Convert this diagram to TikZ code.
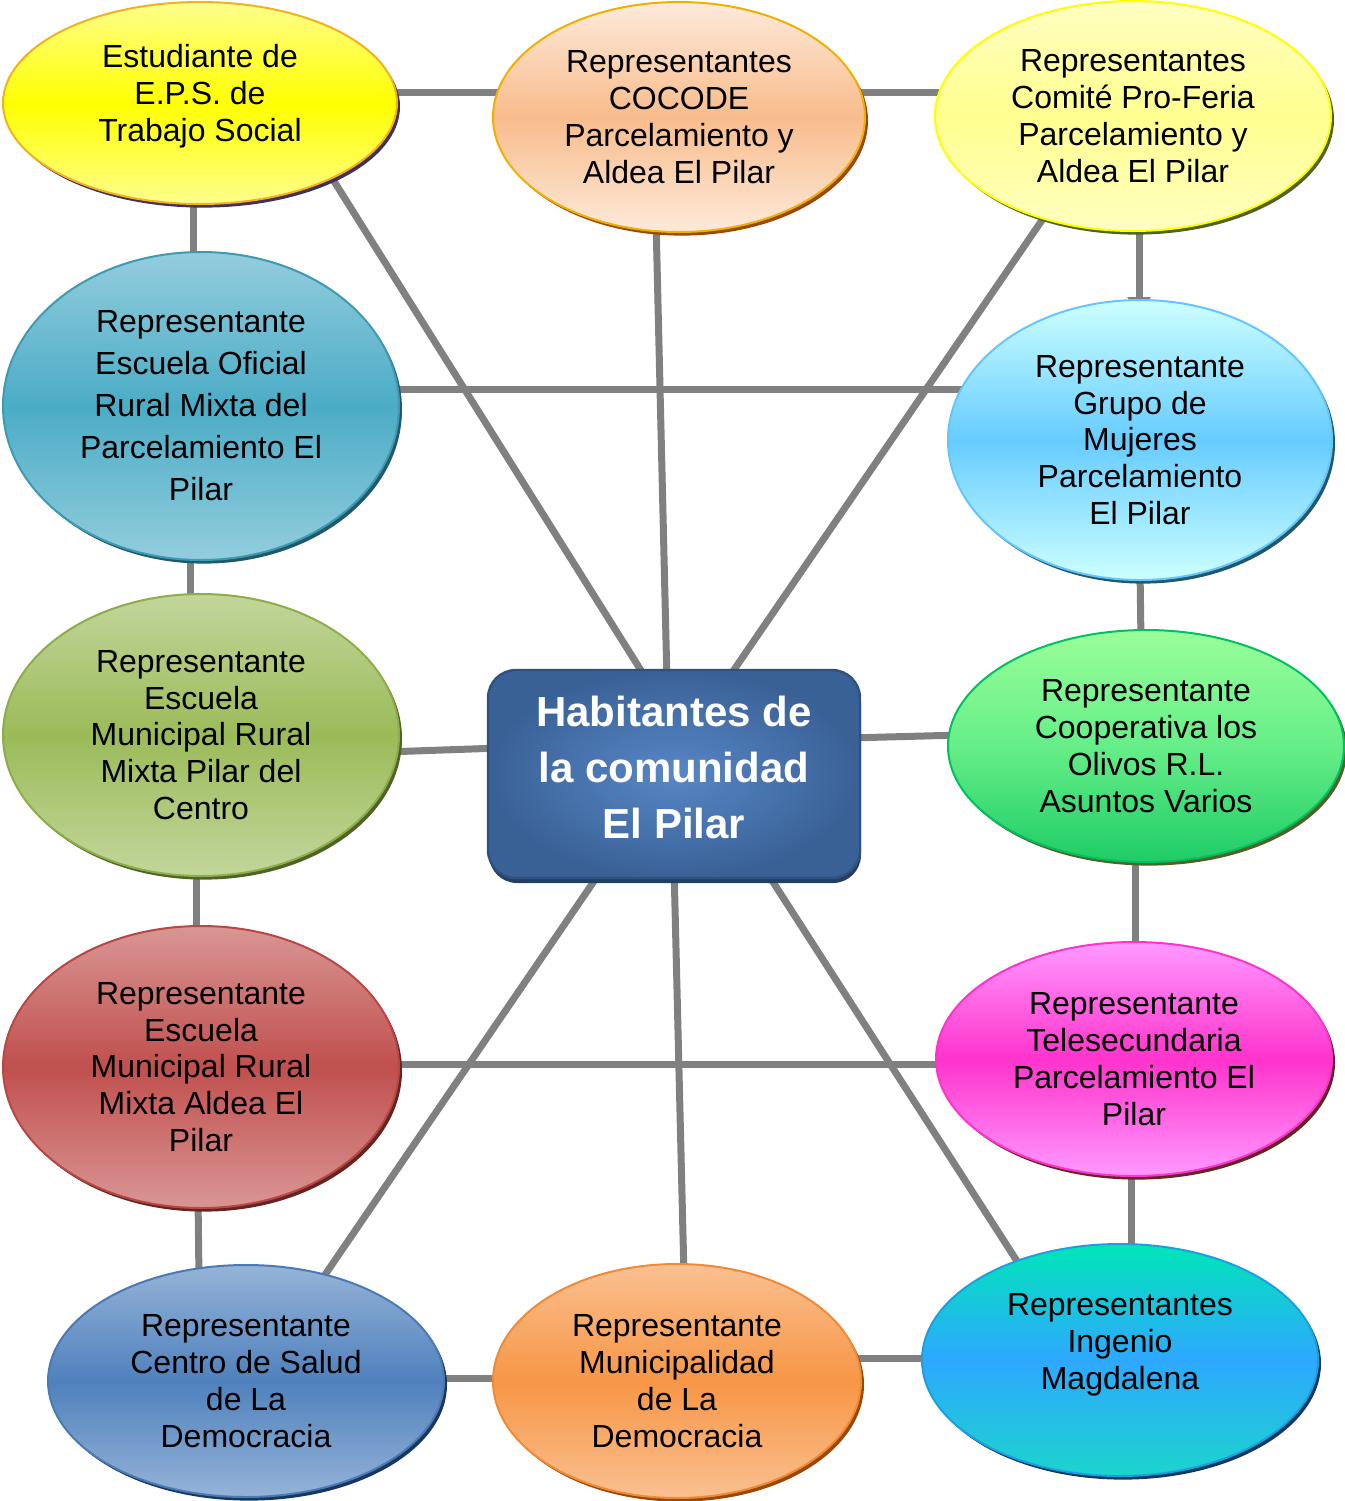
\documentclass[tikz,border=0pt]{standalone}
\usepackage{fontspec}
\setmainfont{Liberation Sans}
\usetikzlibrary{shapes.geometric,shadows,backgrounds,arrows.meta}
\definecolor{linkgray}{HTML}{808080}
% colours
\definecolor{epsT}{HTML}{FFFF8C}\definecolor{epsM}{HTML}{FFFF00}\definecolor{epsB}{HTML}{F2B21E}\definecolor{epsS}{HTML}{403060}
\definecolor{cocT}{HTML}{FDEADA}\definecolor{cocM}{HTML}{F8BC8C}\definecolor{cocB}{HTML}{F0B000}\definecolor{cocS}{HTML}{984807}
\definecolor{comT}{HTML}{FFFFC0}\definecolor{comM}{HTML}{FFFF90}\definecolor{comB}{HTML}{FFFF00}\definecolor{comS}{HTML}{4F6228}
\definecolor{escT}{HTML}{93CDDD}\definecolor{escM}{HTML}{4BACC6}\definecolor{escB}{HTML}{3D9AB3}\definecolor{escS}{HTML}{215968}
\definecolor{mujT}{HTML}{CCFFFF}\definecolor{mujM}{HTML}{66CCFF}\definecolor{mujB}{HTML}{66C4FF}\definecolor{mujS}{HTML}{215968}
\definecolor{cenT}{HTML}{C3D69B}\definecolor{cenM}{HTML}{9BBB59}\definecolor{cenB}{HTML}{8CAE48}\definecolor{cenS}{HTML}{4F6228}
\definecolor{cooT}{HTML}{99FF99}\definecolor{cooM}{HTML}{66EE88}\definecolor{cooBt}{HTML}{1ECC66}\definecolor{cooB}{HTML}{00C060}\definecolor{cooS}{HTML}{4F6228}
\definecolor{aldT}{HTML}{D99694}\definecolor{aldM}{HTML}{C0504D}\definecolor{aldB}{HTML}{B84744}\definecolor{aldS}{HTML}{632523}
\definecolor{telT}{HTML}{FF99FF}\definecolor{telM}{HTML}{FF33CC}\definecolor{telB}{HTML}{FF33CC}\definecolor{telS}{HTML}{632523}
\definecolor{salT}{HTML}{95B3D7}\definecolor{salM}{HTML}{4F81BD}\definecolor{salB}{HTML}{4A7AB5}\definecolor{salS}{HTML}{17375E}
\definecolor{munT}{HTML}{FAC090}\definecolor{munM}{HTML}{F79646}\definecolor{munB}{HTML}{F08A36}\definecolor{munS}{HTML}{984807}
\definecolor{ingT}{HTML}{00E6B8}\definecolor{ingM}{HTML}{2EA8FF}\definecolor{ingBt}{HTML}{1CD4CC}\definecolor{ingB}{HTML}{1AA0E0}\definecolor{ingS}{HTML}{17375E}
\definecolor{habI}{HTML}{5787C6}\definecolor{habO}{HTML}{3A6196}\definecolor{habB}{HTML}{2F5181}\definecolor{habS}{HTML}{243F60}
\tikzset{
  bub/.style={ellipse, inner sep=0pt, align=center, line width=1pt,
    font=\fontsize{16}{18.4}\selectfont},
  paint/.style n args={5}{draw=#4, top color=#1, bottom color=#3, middle color=#2,
    general shadow={fill=#5, shadow xshift=1.5pt, shadow yshift=-1.8pt}},
  link/.style={draw=linkgray, line width=3.5pt},
  lbl/.style={font=\fontsize{16}{18.4}\selectfont, align=center},
}
\begin{document}
\begin{tikzpicture}[x=0.5pt,y=-0.5pt]
\useasboundingbox (0,0) rectangle (1345,1501);

% ---------- nodes ----------
\node[bub, minimum width=197pt, minimum height=101pt, paint={epsT}{epsM}{epsT}{epsB}{epsS},
  label={[lbl, yshift=3.5pt]center:Estudiante de\\E.P.S. de\\Trabajo Social}]
  (eps) at (200,103) {};

\node[bub, minimum width=186pt, minimum height=115pt, paint={cocT}{cocM}{cocT}{cocB}{cocS}]
  (cocode) at (679,117) {Representantes\\COCODE\\Parcelamiento y\\Aldea El Pilar};

\node[bub, minimum width=198pt, minimum height=115pt, paint={comT}{comM}{comT}{comB}{comS}]
  (comite) at (1133,116) {Representantes\\Comité Pro-Feria\\Parcelamiento y\\Aldea El Pilar};

\node[bub, minimum width=198pt, minimum height=154pt, paint={escT}{escM}{escT}{escB}{escS},
  font=\fontsize{16}{21}\selectfont]
  (escof) at (201,406) {Representante\\Escuela Oficial\\Rural Mixta del\\Parcelamiento El\\Pilar};

\node[bub, minimum width=192pt, minimum height=140pt, paint={mujT}{mujM}{mujT}{mujB}{mujS}]
  (mujeres) at (1140,440) {Representante\\Grupo de\\Mujeres\\Parcelamiento\\El Pilar};

\node[bub, minimum width=198pt, minimum height=141pt, paint={cenT}{cenM}{cenT}{cenB}{cenS}]
  (centro) at (201,735) {Representante\\Escuela\\Municipal Rural\\Mixta Pilar del\\Centro};

\node[draw=habB, line width=1.2pt, rounded corners=14pt, minimum width=186pt, minimum height=104pt,
  inner color=habI, outer color=habO,
  general shadow={fill=habS, shadow xshift=0.5pt, shadow yshift=-2.5pt},
  label={[text=white, align=center, font=\bfseries\fontsize{21}{28}\selectfont, yshift=3.5pt]center:Habitantes de\\la comunidad\\El Pilar}]
  (hab) at (674,774) {};

\node[bub, minimum width=198pt, minimum height=116pt, paint={cooT}{cooM}{cooBt}{cooB}{cooS}]
  (coop) at (1146,746) {Representante\\Cooperativa los\\Olivos R.L.\\Asuntos Varios};

\node[bub, minimum width=198pt, minimum height=141pt, paint={aldT}{aldM}{aldT}{aldB}{aldS}]
  (aldea) at (201,1067) {Representante\\Escuela\\Municipal Rural\\Mixta Aldea El\\Pilar};

\node[bub, minimum width=198pt, minimum height=117pt, paint={telT}{telM}{telT}{telB}{telS}]
  (tele) at (1134,1059) {Representante\\Telesecundaria\\Parcelamiento El\\Pilar};

\node[bub, minimum width=198pt, minimum height=116pt, paint={salT}{salM}{salT}{salB}{salS}]
  (salud) at (246,1381) {Representante\\Centro de Salud\\de La\\Democracia};

\node[bub, minimum width=184pt, minimum height=117pt, paint={munT}{munM}{munT}{munB}{munS}]
  (muni) at (677,1381) {Representante\\Municipalidad\\de La\\Democracia};

\node[bub, minimum width=198pt, minimum height=116pt, paint={ingT}{ingM}{ingBt}{ingB}{ingS},
  label={[lbl, yshift=7.5pt]center:Representantes\\Ingenio\\Magdalena}]
  (ingenio) at (1120,1360) {};

% ---------- connectors ----------
\begin{scope}[on background layer]
\draw[link] ([shift={(185,-11)}]eps.center) -- ([shift={(-169,-25)}]cocode.center);
\draw[link] ([shift={(171,-25)}]cocode.center) -- ([shift={(-183,-24)}]comite.center);
\draw[link] ([shift={(-7,91)}]eps.center) -- ([shift={(-8,-144)}]escof.center);
\draw[link, -{Triangle[width=11.5pt,length=8pt]}] ([shift={(6,106)}]comite.center) -- ([shift={(-1,-127)}]mujeres.center);
\draw[link] ([shift={(184,-17)}]escof.center) -- ([shift={(-165,-51)}]mujeres.center);
\draw[link] ([shift={(127,67)}]eps.center) -- ([shift={(-27,-94)}]hab.center);
\draw[link] ([shift={(-23,103)}]cocode.center) -- ([shift={(-7,-92)}]hab.center);
\draw[link] ([shift={(-84,94)}]comite.center) -- ([shift={(53,-94)}]hab.center);
\draw[link] ([shift={(-11,144)}]escof.center) -- ([shift={(-11,-129)}]centro.center);
\draw[link] ([shift={(0,128)}]mujeres.center) -- ([shift={(-5,-104)}]coop.center);
\draw[link] ([shift={(184,17)}]centro.center) -- ([shift={(-174,-26)}]hab.center);
\draw[link] ([shift={(174,-36)}]hab.center) -- ([shift={(-184,-11)}]coop.center);
\draw[link] ([shift={(-5,129)}]centro.center) -- ([shift={(-5,-129)}]aldea.center);
\draw[link] ([shift={(-11,104)}]coop.center) -- ([shift={(1,-105)}]tele.center);
\draw[link] ([shift={(184,-3)}]aldea.center) -- ([shift={(-184,5)}]tele.center);
\draw[link] ([shift={(-71,94)}]hab.center) -- ([shift={(72,-96)}]salud.center);
\draw[link] ([shift={(0,92)}]hab.center) -- ([shift={(7,-105)}]muni.center);
\draw[link] ([shift={(90,94)}]hab.center) -- ([shift={(-96,-88)}]ingenio.center);
\draw[link] ([shift={(-3,129)}]aldea.center) -- ([shift={(-47,-102)}]salud.center);
\draw[link] ([shift={(-3,105)}]tele.center) -- ([shift={(11,-104)}]ingenio.center);
\draw[link] ([shift={(186,-3)}]salud.center) -- ([shift={(-169,-3)}]muni.center);
\draw[link] ([shift={(169,-23)}]muni.center) -- ([shift={(-185,-2)}]ingenio.center);
\end{scope}
\end{tikzpicture}
\end{document}
